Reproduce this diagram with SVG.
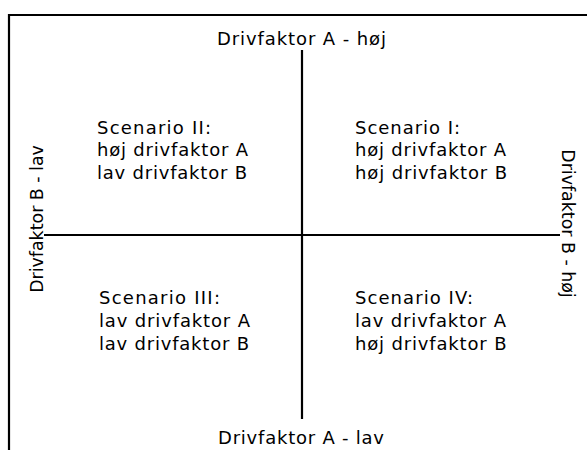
<svg xmlns="http://www.w3.org/2000/svg" width="587" height="450" viewBox="0 0 587 450">
<style>
text { font-family: "DejaVu Sans", Verdana, sans-serif; font-size: 18px; fill: #000; }
.rot { font-size: 17.4px; }
.ln { stroke: #000; stroke-width: 2.2; fill: none; }
</style>
<rect width="587" height="450" fill="#fff"/>
<g id="frame">
<path class="ln" d="M9 450 V15 H587"/>
</g>
<g id="connectors">
<line class="ln" x1="302" y1="50" x2="302" y2="419"/>
<line class="ln" x1="44" y1="235" x2="560" y2="235"/>
</g>
<g id="axis-top"><text x="217" y="45" textLength="169" lengthAdjust="spacing">Drivfaktor A - høj</text></g>
<g id="axis-bottom"><text x="218" y="444" textLength="166" lengthAdjust="spacing">Drivfaktor A - lav</text></g>
<g id="axis-left"><text class="rot" transform="translate(42.5 219) rotate(-90)" text-anchor="middle">Drivfaktor B - lav</text></g>
<g id="axis-right"><text class="rot" transform="translate(562 223.5) rotate(90)" text-anchor="middle">Drivfaktor B - høj</text></g>
<g id="scenario-2">
<text x="97" y="133.5" textLength="114" lengthAdjust="spacing">Scenario II:</text>
<text x="97" y="156" textLength="151" lengthAdjust="spacing">høj drivfaktor A</text>
<text x="97" y="178.5" textLength="150" lengthAdjust="spacing">lav drivfaktor B</text>
</g>
<g id="scenario-1">
<text x="355" y="133.5" textLength="105" lengthAdjust="spacing">Scenario I:</text>
<text x="355" y="156" textLength="151" lengthAdjust="spacing">høj drivfaktor A</text>
<text x="355" y="178.5" textLength="152" lengthAdjust="spacing">høj drivfaktor B</text>
</g>
<g id="scenario-3">
<text x="99" y="304" textLength="121" lengthAdjust="spacing">Scenario III:</text>
<text x="99" y="327" textLength="151" lengthAdjust="spacing">lav drivfaktor A</text>
<text x="99" y="350" textLength="150" lengthAdjust="spacing">lav drivfaktor B</text>
</g>
<g id="scenario-4">
<text x="355" y="304" textLength="118" lengthAdjust="spacing">Scenario IV:</text>
<text x="355" y="327" textLength="151" lengthAdjust="spacing">lav drivfaktor A</text>
<text x="355" y="350" textLength="151.5" lengthAdjust="spacing">høj drivfaktor B</text>
</g>
</svg>
